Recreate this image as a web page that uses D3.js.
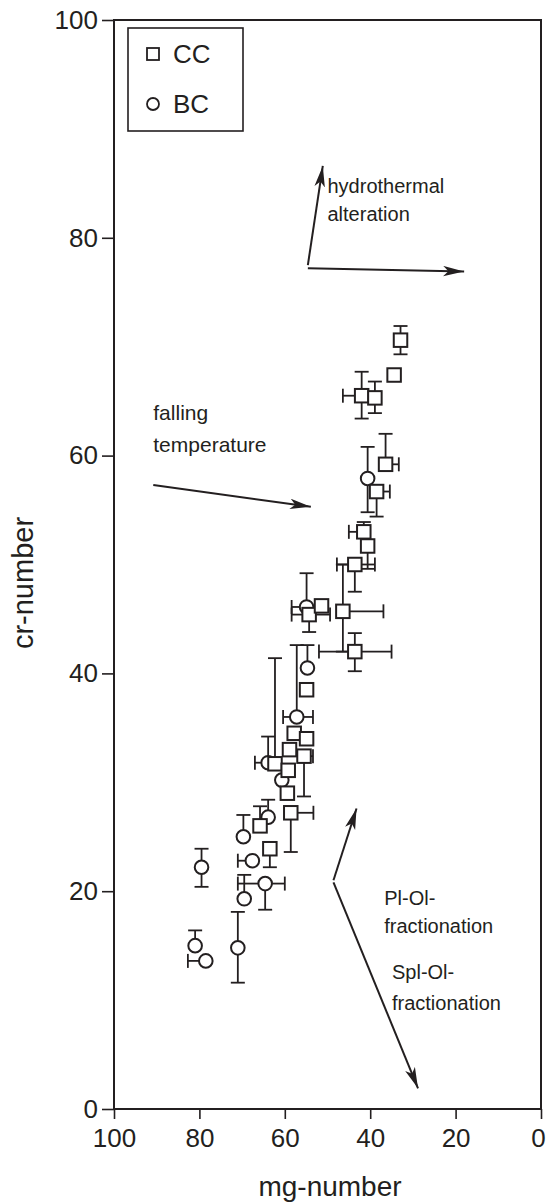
<!DOCTYPE html>
<html>
<head>
<meta charset="utf-8">
<script src="https://cdn.jsdelivr.net/npm/d3@7"></script>
<style>
  body { margin: 0; background: #fff; }
  svg text { font-family: "Liberation Sans", Arial, Helvetica, sans-serif; fill: #231f20; }
</style>
</head>
<body>
<div id="chart"></div>
<script>
// CC samples (squares): mg-number, cr-number and error bar ends (null = no bar)
var ccMg    = [32.9, 34.4, 42.0, 38.9, 36.4, 38.5, 41.5, 40.6, 43.6, 46.4, 43.6, 54.3, 51.4, 54.9, 57.8, 54.9, 58.9, 55.5, 62.3, 59.2, 59.4, 58.6, 65.8, 63.5];
var ccCr    = [70.6, 67.4, 65.5, 65.3, 59.2, 56.7, 53.0, 51.7, 50.0, 45.7, 42.0, 45.4, 46.2, 38.5, 34.5, 34.0, 33.0, 32.4, 31.7, 31.1, 29.0, 27.2, 26.0, 23.9];
var ccMgLow = [null, null, null, null, 33.3, 35.4, null, null, 38.9, 36.9, 35.0, 49.4, null, null, null, null, null, 53.4, null, null, null, 53.3, null, null];
var ccMgHigh= [null, null, 46.4, null, null, null, 45.0, null, 47.8, null, 52.0, 58.4, null, null, null, null, null, null, null, null, null, null, null, null];
var ccCrLow = [69.3, null, 63.4, 63.9, null, 54.4, null, 49.6, 47.5, 42.0, 40.2, 43.8, null, null, null, null, null, 28.7, null, null, null, 23.6, null, 22.2];
var ccCrHigh= [71.9, null, 67.7, 66.8, 62.0, null, 53.9, null, null, 50.0, 43.7, null, null, null, null, null, null, null, 41.4, null, null, null, 27.8, null];

// BC samples (circles)
var bcMg    = [40.6, 54.9, 54.7, 57.2, 63.9, 60.7, 63.9, 69.7, 67.6, 79.5, 64.6, 69.5, 71.0, 81.0, 78.5];
var bcCr    = [57.9, 46.1, 40.5, 36.0, 31.8, 30.2, 26.8, 25.0, 22.8, 22.2, 20.7, 19.3, 14.8, 15.0, 13.6];
var bcMgLow = [null, null, null, 53.4, null, null, null, null, null, null, 60.0, null, null, null, null];
var bcMgHigh= [null, 58.4, null, 60.4, 67.0, null, null, null, 71.0, null, 71.0, null, null, null, 82.7];
var bcCrLow = [54.8, null, null, null, null, null, null, null, null, 20.4, 18.3, null, 11.6, null, null];
var bcCrHigh= [60.8, 49.2, 42.6, 42.6, 34.2, null, 28.4, 27.0, null, 23.9, null, 21.5, 18.1, 16.4, null];

var xTicks = [100, 80, 60, 40, 20, 0];
var yTicks = [0, 20, 40, 60, 80, 100];

var W = 547, H = 1202;
var ink = "#231f20";

var x = d3.scaleLinear().domain([100, 0]).range([114, 541]);
var y = d3.scaleLinear().domain([0, 100]).range([1109, 20]);

var svg = d3.select("#chart").append("svg").attr("width", W).attr("height", H);

svg.append("defs").append("marker")
  .attr("id", "head").attr("viewBox", "0 0 20 10")
  .attr("refX", 20).attr("refY", 5)
  .attr("markerWidth", 21).attr("markerHeight", 11)
  .attr("markerUnits", "userSpaceOnUse").attr("orient", "auto")
  .append("path").attr("d", "M0,0 L20,5 L0,10 L5,5 Z").attr("fill", ink);

// frame
svg.append("rect")
  .attr("x", x(100)).attr("y", y(100))
  .attr("width", x(0) - x(100)).attr("height", y(0) - y(100))
  .attr("fill", "none").attr("stroke", ink).attr("stroke-width", 2);

// axes
var xAxis = svg.append("g").attr("transform", "translate(0," + y(0) + ")")
  .call(d3.axisBottom(x).tickValues(xTicks).tickSize(10).tickPadding(10).tickFormat(d3.format("d")));
var yAxis = svg.append("g").attr("transform", "translate(" + x(100) + ",0)")
  .call(d3.axisLeft(y).tickValues(yTicks).tickSize(12).tickPadding(4).tickFormat(d3.format("d")));
[xAxis, yAxis].forEach(function(a) {
  a.select(".domain").remove();
  a.selectAll("line").attr("stroke", ink).attr("stroke-width", 1.6);
  a.selectAll("text").attr("font-size", 26).attr("fill", ink)
    .style("font-family", "'Liberation Sans', Arial, sans-serif");
});
// last x label sits on the page edge
xAxis.selectAll("text").filter(function(d) { return d === 0; }).attr("dx", -3);

svg.append("text").attr("x", 330).attr("y", 1196)
  .attr("text-anchor", "middle").attr("font-size", 28).text("mg-number");
svg.append("text").attr("transform", "translate(33,583) rotate(-90)")
  .attr("text-anchor", "middle").attr("font-size", 29).text("cr-number");

// rows for drawing
function rows(mg, cr, mgLo, mgHi, crLo, crHi) {
  return mg.map(function(m, i) {
    return {mg: m, cr: cr[i], mgLo: mgLo[i], mgHi: mgHi[i], crLo: crLo[i], crHi: crHi[i]};
  });
}
var cc = rows(ccMg, ccCr, ccMgLow, ccMgHigh, ccCrLow, ccCrHigh);
var bc = rows(bcMg, bcCr, bcMgLow, bcMgHigh, bcCrLow, bcCrHigh);

// error bars
var cap = 7;
var eb = svg.append("g").attr("stroke", ink).attr("stroke-width", 1.8).attr("fill", "none");
cc.concat(bc).forEach(function(d) {
  var px = x(d.mg), py = y(d.cr);
  [d.mgLo, d.mgHi].forEach(function(e) {
    if (e == null) return;
    eb.append("line").attr("x1", px).attr("x2", x(e)).attr("y1", py).attr("y2", py);
    eb.append("line").attr("x1", x(e)).attr("x2", x(e)).attr("y1", py - cap).attr("y2", py + cap);
  });
  [d.crLo, d.crHi].forEach(function(e) {
    if (e == null) return;
    eb.append("line").attr("x1", px).attr("x2", px).attr("y1", py).attr("y2", y(e));
    eb.append("line").attr("x1", px - cap).attr("x2", px + cap).attr("y1", y(e)).attr("y2", y(e));
  });
});

// markers
var s = 13.5;
svg.append("g").selectAll("circle").data(bc).join("circle")
  .attr("cx", function(d) { return x(d.mg); })
  .attr("cy", function(d) { return y(d.cr); })
  .attr("r", 6.8)
  .attr("fill", "#fff").attr("stroke", ink).attr("stroke-width", 2);
svg.append("g").selectAll("rect").data(cc).join("rect")
  .attr("x", function(d) { return x(d.mg) - s / 2; })
  .attr("y", function(d) { return y(d.cr) - s / 2; })
  .attr("width", s).attr("height", s)
  .attr("fill", "#fff").attr("stroke", ink).attr("stroke-width", 2);

// legend
var lg = svg.append("g");
lg.append("rect").attr("x", 128).attr("y", 28).attr("width", 115).attr("height", 103)
  .attr("fill", "#fff").attr("stroke", ink).attr("stroke-width", 1.6);
lg.append("rect").attr("x", 147).attr("y", 48).attr("width", 12).attr("height", 12)
  .attr("fill", "none").attr("stroke", ink).attr("stroke-width", 1.8);
lg.append("circle").attr("cx", 153).attr("cy", 104).attr("r", 6)
  .attr("fill", "none").attr("stroke", ink).attr("stroke-width", 1.8);
lg.append("text").attr("x", 173).attr("y", 63).attr("font-size", 26).text("CC");
lg.append("text").attr("x", 173).attr("y", 113).attr("font-size", 26).text("BC");

// process arrows (from, to in data units)
var arrows = [
  [[54.6, 77.5], [51.1, 86.6]],
  [[54.6, 77.2], [18.0, 76.9]],
  [[90.8, 57.3], [53.9, 55.3]],
  [[48.6, 21.0], [43.2, 27.6]],
  [[48.6, 20.8], [28.8, 1.9]]
];
svg.append("g").selectAll("line").data(arrows).join("line")
  .attr("x1", function(d) { return x(d[0][0]); })
  .attr("y1", function(d) { return y(d[0][1]); })
  .attr("x2", function(d) { return x(d[1][0]); })
  .attr("y2", function(d) { return y(d[1][1]); })
  .attr("stroke", ink).attr("stroke-width", 2)
  .attr("marker-end", "url(#head)");

var notes = [
  {t: "hydrothermal", mg: 50.0, cr: 84.1, size: 20},
  {t: "alteration", mg: 50.0, cr: 81.5, size: 20},
  {t: "falling", mg: 90.8, cr: 63.3, size: 21},
  {t: "temperature", mg: 90.8, cr: 60.3, size: 21},
  {t: "Pl-Ol-", mg: 36.7, cr: 18.7, size: 20},
  {t: "fractionation", mg: 36.7, cr: 16.2, size: 20},
  {t: "Spl-Ol-", mg: 34.9, cr: 11.9, size: 20},
  {t: "fractionation", mg: 34.9, cr: 9.1, size: 20}
];
svg.append("g").selectAll("text").data(notes).join("text")
  .attr("x", function(d) { return x(d.mg); })
  .attr("y", function(d) { return y(d.cr); })
  .attr("font-size", function(d) { return d.size; })
  .text(function(d) { return d.t; });
</script>
</body>
</html>
